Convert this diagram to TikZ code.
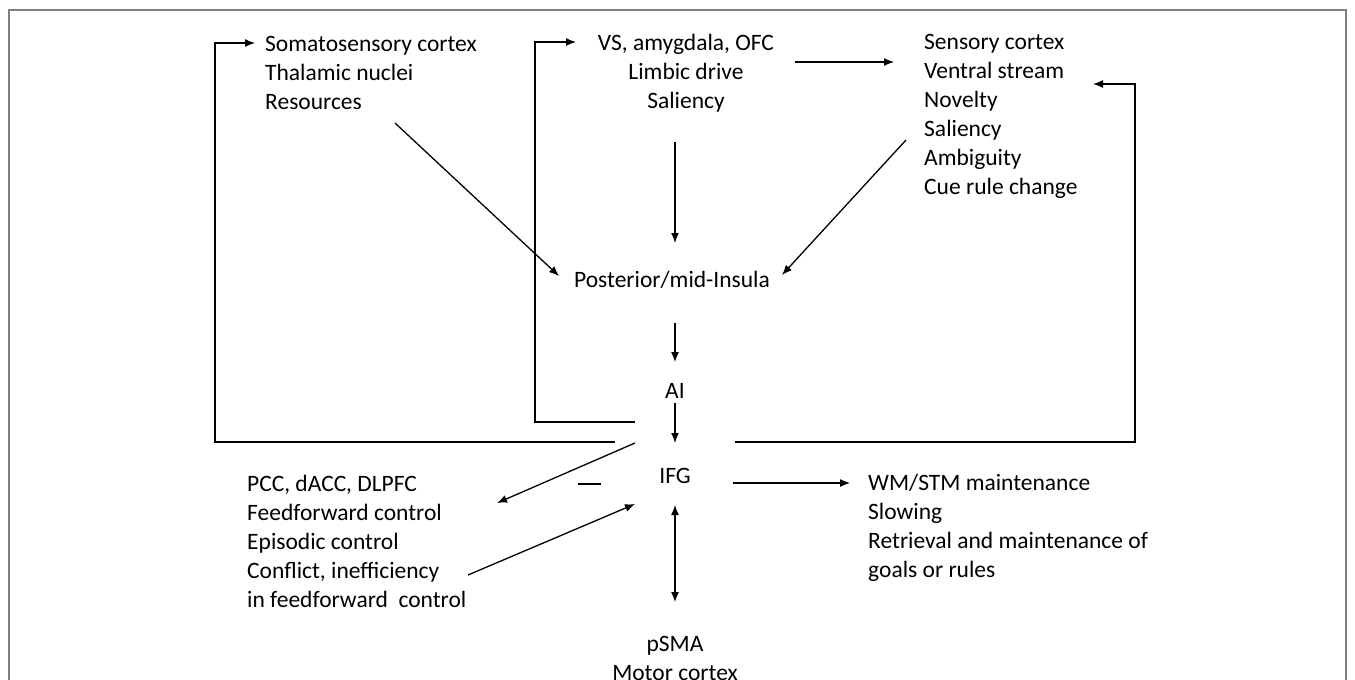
\documentclass[tikz,border=0pt]{standalone}
\usepackage{fontspec}
\setmainfont{Carlito}
\usetikzlibrary{arrows.meta}
\begin{document}
\begin{tikzpicture}[x=1pt,y=-1pt,
  txt/.style={inner sep=0pt,font=\fontsize{23.5}{29}\selectfont},
  lbl/.style={txt,align=left,anchor=base west},
  clbl/.style={txt,align=center,anchor=base},
  conn/.style={line width=1.3pt,-{Latex[length=10pt,width=8pt]}},
  frame/.style={line width=1.5pt,draw=black!50}]
\useasboundingbox (0,0) rectangle (1355,680);
\draw[frame] (9,700) -- (9,10) -- (1346,10) -- (1346,700);

% text blocks (anchored at the baseline of the last line)
\node[lbl] (soma) at (265,109) {Somatosensory cortex\\Thalamic nuclei\\Resources};
\node[clbl] (vs) at (686,108) {VS, amygdala, OFC\\Limbic drive\\Saliency};
\node[lbl] (sens) at (924,194) {Sensory cortex\\Ventral stream\\Novelty\\Saliency\\Ambiguity\\Cue rule change};
\node[clbl] (post) at (672,287) {Posterior/mid-Insula};
\node[clbl] (ai) at (675,398) {AI};
\node[clbl] (ifg) at (675,483) {IFG};
\node[lbl] (pcc) at (247,607) {PCC, dACC, DLPFC\\Feedforward control\\Episodic control\\Conflict, inefficiency\\in feedforward\ \ control};
\node[lbl] (wm) at (868,577) {WM/STM maintenance\\Slowing\\Retrieval and maintenance of\\goals or rules};
\node[clbl] (psma) at (675,680) {pSMA\\Motor cortex};
\node[txt,anchor=center] (minus) at (589,484) {\rule{23pt}{1.4pt}};

% connector end points
\coordinate (somaIn) at (255,43);
\coordinate (vsIn) at (576,42);
\coordinate (sensIn) at (1093,84);
\coordinate (vsOut) at (795,62);
\coordinate (sensTop) at (894,62);
\coordinate (vsDown) at (675,142);
\coordinate (postTop) at (675,243);
\coordinate (somaOut) at (395,123);
\coordinate (postL) at (559,276);
\coordinate (sensOut) at (906,140);
\coordinate (postR) at (782,275);
\coordinate (postBot) at (675,323);
\coordinate (aiTop) at (675,362);
\coordinate (aiBot) at (675,403);
\coordinate (ifgTop) at (675,443);
\coordinate (ifgL1) at (615,442);
\coordinate (ifgL2) at (635,422);
\coordinate (ifgR) at (735,442);
\coordinate (ifgUL) at (635,443);
\coordinate (pccIn) at (497,503);
\coordinate (pccOut) at (468,575);
\coordinate (ifgLL) at (635,504);
\coordinate (ifgE) at (733,483);
\coordinate (wmIn) at (850,483);
\coordinate (ifgBot) at (675,505);
\coordinate (psmaTop) at (675,602);

% connectors
\draw[conn] (ifgL1) -- (215,442) -- (215,43) -- (somaIn);
\draw[conn] (ifgL2) -- (535,422) -- (535,42) -- (vsIn);
\draw[conn] (ifgR) -- (1135,442) -- (1135,84) -- (sensIn);
\draw[conn] (vsOut) -- (sensTop);
\draw[conn] (vsDown) -- (postTop);
\draw[conn] (somaOut) -- (postL);
\draw[conn] (sensOut) -- (postR);
\draw[conn] (postBot) -- (aiTop);
\draw[conn] (aiBot) -- (ifgTop);
\draw[conn] (ifgUL) -- (pccIn);
\draw[conn] (pccOut) -- (ifgLL);
\draw[conn] (ifgE) -- (wmIn);
\draw[conn,{Latex[length=10pt,width=8pt]}-{Latex[length=10pt,width=8pt]}] (ifgBot) -- (psmaTop);
\end{tikzpicture}
\end{document}
